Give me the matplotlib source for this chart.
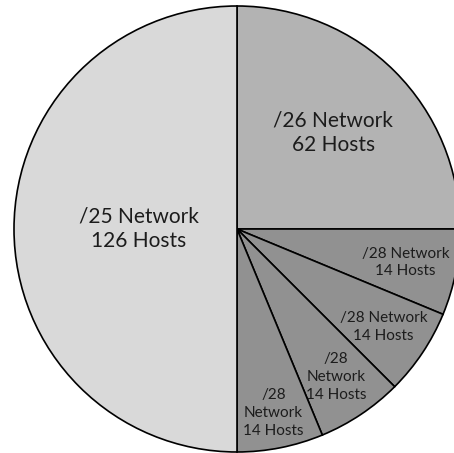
import numpy as np
import matplotlib
matplotlib.use("Agg")
import matplotlib.pyplot as plt

# subnet sizes (addresses) drive the wedge sizes, hosts go into the labels
prefixes = ["/26", "/28", "/28", "/28", "/28", "/25"]
addresses = [64, 16, 16, 16, 16, 128]
hosts = [62, 14, 14, 14, 14, 126]
colors = ["#b3b3b3", "#919191", "#919191", "#919191", "#919191", "#d9d9d9"]

label_text = [
    "{} Network\n{} Hosts",
    "{} Network\n{} Hosts",
    "{} Network\n{} Hosts",
    "{}\nNetwork\n{} Hosts",
    "{}\nNetwork\n{} Hosts",
    "{} Network\n{} Hosts",
]
label_dist = [0.61, 0.77, 0.79, 0.80, 0.84, 0.44]
label_size = [15, 11, 11, 11, 11, 15]

plt.rcParams['font.family'] = ['Lato', 'DejaVu Sans']

W, H = 454, 453
fig = plt.figure(figsize=(W / 100, H / 100), dpi=100)
cx, cy, R = 237, 229, 223
ax = fig.add_axes([(cx - R) / W, (H - cy - R) / H, 2 * R / W, 2 * R / H])

wedges, _ = ax.pie(addresses, colors=colors, startangle=90, counterclock=False,
                   radius=1.0, wedgeprops=dict(edgecolor="black", linewidth=1.2))

for w, p, h, fmt, d, fs in zip(wedges, prefixes, hosts, label_text, label_dist, label_size):
    mid = np.deg2rad((w.theta1 + w.theta2) / 2)
    ax.text(d * np.cos(mid), d * np.sin(mid), fmt.format(p, h),
            ha="center", va="center", fontsize=fs, color="#1c1c1c",
            linespacing=1.25 if fs > 12 else 1.35)

ax.set_xlim(-1, 1)
ax.set_ylim(-1, 1)
ax.set_aspect("equal")
ax.axis("off")

fig.savefig("out.png", dpi=100)
